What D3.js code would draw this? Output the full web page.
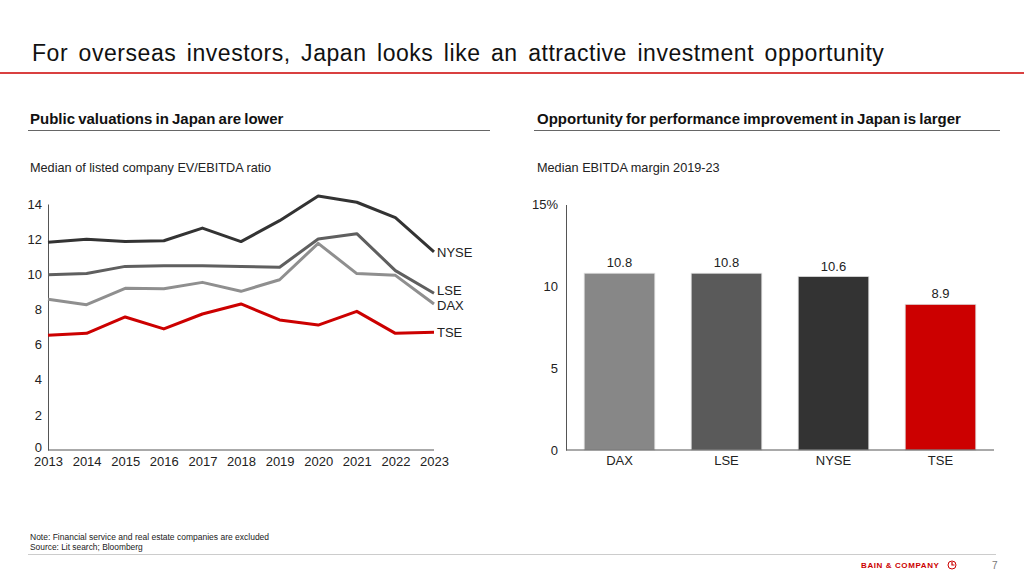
<!DOCTYPE html>
<html><head><meta charset="utf-8">
<script src="https://cdn.jsdelivr.net/npm/d3@7"></script>
<style>body{margin:0;background:#fff}svg{display:block;font-family:"Liberation Sans",Arial,sans-serif}</style>
</head><body><svg id="c" width="1024" height="576"></svg>
<script>
const years = [2013,2014,2015,2016,2017,2018,2019,2020,2021,2022,2023];
const nyse = [11.82,11.99,11.86,11.91,12.63,11.86,13.05,14.46,14.1,13.22,11.27];
const lse  = [9.98,10.04,10.45,10.49,10.49,10.45,10.4,12.01,12.31,10.21,8.92];
const dax  = [8.58,8.27,9.2,9.18,9.54,9.03,9.69,11.76,10.04,9.94,8.31];
const tse  = [6.53,6.64,7.57,6.89,7.74,8.31,7.4,7.11,7.89,6.64,6.7];
const lineNames = ["NYSE","LSE","DAX","TSE"];
const lineTicks = [0,2,4,6,8,10,12,14];
const barCats = ["DAX","LSE","NYSE","TSE"];
const barVals = [10.8,10.8,10.6,8.9];
const barTicks = [0,5,10,15];

const svg = d3.select("#c");
// Header
svg.append("text").attr("x",32).attr("y",61).attr("font-size",23).attr("fill","#111")
  .attr("letter-spacing",0.55).attr("word-spacing",3.5)
  .text("For overseas investors, Japan looks like an attractive investment opportunity");
svg.append("line").attr("x1",0).attr("x2",1024).attr("y1",73).attr("y2",73).attr("stroke","#cc0000").attr("stroke-width",1.5);

// Subtitles
svg.append("text").attr("x",30).attr("y",124).attr("font-size",15).attr("font-weight","bold").attr("fill","#111")
  .attr("word-spacing",-1).text("Public valuations in Japan are lower");
svg.append("line").attr("x1",28).attr("x2",490).attr("y1",130.5).attr("y2",130.5).attr("stroke","#666").attr("stroke-width",1);
svg.append("text").attr("x",537).attr("y",124).attr("font-size",15).attr("font-weight","bold").attr("fill","#111")
  .attr("word-spacing",-1).text("Opportunity for performance improvement in Japan is larger");
svg.append("line").attr("x1",534).attr("x2",1000).attr("y1",130.5).attr("y2",130.5).attr("stroke","#666").attr("stroke-width",1);

svg.append("text").attr("x",30).attr("y",172).attr("font-size",12.7).attr("fill","#222")
  .text("Median of listed company EV/EBITDA ratio");
svg.append("text").attr("x",537).attr("y",172).attr("font-size",12.7).attr("fill","#222")
  .text("Median EBITDA margin 2019-23");

// Line chart
const x = d3.scalePoint().domain(years).range([48,434]);
const y = d3.scaleLinear().domain([0,14]).range([450,204]);
const gL = svg.append("g");
const yAx = gL.append("g").attr("transform","translate(48,0)")
  .call(d3.axisLeft(y).tickValues(lineTicks).tickSize(0).tickPadding(6));
yAx.select(".domain").attr("stroke","#555");
yAx.selectAll("text").attr("font-size",13).attr("fill","#222").attr("font-family","Liberation Sans, Arial")
  .attr("dy",d=>d===0?"0.15em":"0.32em");
const xAx = gL.append("g").attr("transform","translate(0,450)")
  .call(d3.axisBottom(x).tickSize(0).tickPadding(7).tickFormat(d3.format("d")));
xAx.select(".domain").attr("stroke","#555").attr("d","M48,0H434");
xAx.selectAll("text").attr("font-size",13).attr("fill","#222").attr("font-family","Liberation Sans, Arial");

const series = [
  {name:"NYSE", vals:nyse, color:"#333333", dy:0},
  {name:"LSE", vals:lse, color:"#5f5f5f", dy:-3},
  {name:"DAX", vals:dax, color:"#8f8f8f", dy:1},
  {name:"TSE", vals:tse, color:"#cc0000", dy:0}
];
const line = d3.line().x((d,i)=>x(years[i])).y(d=>y(d));
[series[2],series[1],series[0],series[3]].forEach(s=>{
  gL.append("path").attr("d",line(s.vals)).attr("fill","none").attr("stroke",s.color).attr("stroke-width",3)
    .attr("stroke-linejoin","round");
});
series.forEach(s=>{
  gL.append("text").attr("x",437).attr("y",y(s.vals[s.vals.length-1])+s.dy).attr("dy","0.35em")
    .attr("font-size",13).attr("fill","#222").text(s.name);
});

// Bar chart
const xb = d3.scaleBand().domain(barCats).range([566,994]).paddingInner(0.34).paddingOuter(0.17);
const yb = d3.scaleLinear().domain([0,15]).range([450,204.5]);
const barColors = ["#878787","#5a5a5a","#333333","#cc0000"];
const gB = svg.append("g");
const ybAx = gB.append("g").attr("transform","translate(566,0)")
  .call(d3.axisLeft(yb).tickValues(barTicks).tickSize(0).tickPadding(8).tickFormat(d=>d===15?"15%":d));
ybAx.select(".domain").attr("stroke","#555");
ybAx.selectAll("text").attr("font-size",13).attr("fill","#222").attr("font-family","Liberation Sans, Arial");
gB.selectAll("rect").data(barVals).join("rect")
  .attr("x",(d,i)=>xb(barCats[i])).attr("width",xb.bandwidth())
  .attr("y",d=>yb(d)).attr("height",d=>450-yb(d))
  .attr("fill",(d,i)=>barColors[i]).attr("stroke","#ddd").attr("stroke-width",0.8);
gB.selectAll("text.v").data(barVals).join("text").attr("class","v")
  .attr("x",(d,i)=>xb(barCats[i])+xb.bandwidth()/2).attr("y",d=>yb(d)-6)
  .attr("text-anchor","middle").attr("font-size",13).attr("fill","#222").text(d=>d.toFixed(1));
const xbAx = gB.append("g").attr("transform","translate(0,450)")
  .call(d3.axisBottom(xb).tickSize(0).tickPadding(6));
xbAx.select(".domain").attr("stroke","#555").attr("d","M566,0H994");
xbAx.selectAll("text").attr("font-size",13).attr("fill","#222").attr("font-family","Liberation Sans, Arial");

// Footer
svg.append("text").attr("x",30).attr("y",540).attr("font-size",8.5).attr("fill","#222").text("Note:  Financial service and real estate companies are excluded");
svg.append("text").attr("x",30).attr("y",550).attr("font-size",8.4).attr("fill","#222").text("Source: Lit search; Bloomberg");
svg.append("line").attr("x1",28).attr("x2",996).attr("y1",554.5).attr("y2",554.5).attr("stroke","#ccc").attr("stroke-width",1);
svg.append("text").attr("x",861).attr("y",568).attr("font-size",8).attr("font-weight","bold").attr("fill","#cc0000")
  .attr("letter-spacing",0.6).text("BAIN & COMPANY");
svg.append("circle").attr("cx",952).attr("cy",565).attr("r",4).attr("fill","none").attr("stroke","#cc0000").attr("stroke-width",1);
svg.append("path").attr("d","M952,562V565H954.5").attr("fill","none").attr("stroke","#cc0000").attr("stroke-width",1.2);
svg.append("text").attr("x",992).attr("y",569).attr("font-size",10).attr("fill","#777").text("7");
</script></body></html>
